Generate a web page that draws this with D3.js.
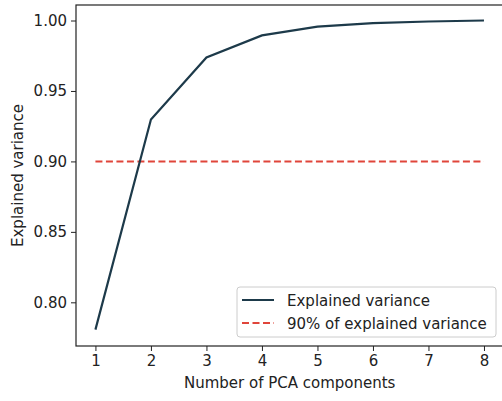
<!DOCTYPE html>
<html><head><meta charset="utf-8">
<script src="https://cdn.jsdelivr.net/npm/d3@7"></script>
<style>body{margin:0;background:#fff}svg{display:block}text{font-family:"DejaVu Sans",sans-serif;fill:#222}</style>
</head><body><svg id="c" width="502" height="401"></svg>
<script>
const components = [1,2,3,4,5,6,7,8];
const explained = [0.7806,0.9298,0.9738,0.9894,0.9957,0.9981,0.9993,1.0];
const threshold = 0.90;
const xTicks = [1,2,3,4,5,6,7,8];
const yTicks = [0.80,0.85,0.90,0.95,1.00];

const svg = d3.select("#c");
const L=76, T=5, R=503.4, B=346;
const x = d3.scaleLinear().domain([0.65,8.35]).range([L,R]);
const y = d3.scaleLinear().domain([0.769,1.011]).range([B,T]);
const fs = 15;

const gx = svg.append("g").attr("transform",`translate(0,${B})`)
  .call(d3.axisBottom(x).tickValues(xTicks).tickFormat(d3.format("d")).tickSize(5).tickPadding(4));
const gy = svg.append("g").attr("transform",`translate(${L},0)`)
  .call(d3.axisLeft(y).tickValues(yTicks).tickFormat(d3.format(".2f")).tickSize(5).tickPadding(4));
[gx,gy].forEach(g=>{g.select(".domain").remove();g.selectAll("text").attr("font-size",fs).attr("font-family","DejaVu Sans").attr("fill","#222");g.selectAll("line").attr("stroke","#222").attr("stroke-width",1);});

svg.append("rect").attr("x",L).attr("y",T).attr("width",R-L).attr("height",B-T)
  .attr("fill","none").attr("stroke","#222").attr("stroke-width",1.2);

svg.append("line").attr("x1",x(1)).attr("x2",x(8)).attr("y1",y(threshold)).attr("y2",y(threshold))
  .attr("stroke","#e0453a").attr("stroke-width",2).attr("stroke-dasharray","7,3.5");

svg.append("path").datum(components.map((c,i)=>[c,explained[i]]))
  .attr("d",d3.line().x(d=>x(d[0])).y(d=>y(d[1])))
  .attr("fill","none").attr("stroke","#1d3a4a").attr("stroke-width",2.2);

svg.append("text").attr("x",(L+R)/2).attr("y",388).attr("text-anchor","middle").attr("font-size",fs).text("Number of PCA components");
svg.append("text").attr("transform",`translate(23,${(T+B)/2}) rotate(-90)`).attr("text-anchor","middle").attr("font-size",fs).text("Explained variance");

const lg = svg.append("g");
lg.append("rect").attr("x",237).attr("y",287).attr("width",259).attr("height",50).attr("rx",3)
  .attr("fill","#fff").attr("stroke","#ccc").attr("stroke-width",1);
const items=[{label:"Explained variance",color:"#1d3a4a",dash:null},{label:"90% of explained variance",color:"#e0453a",dash:"7,3.5"}];
items.forEach((it,i)=>{
  const yy=300+i*23;
  lg.append("line").attr("x1",242).attr("x2",274).attr("y1",yy).attr("y2",yy).attr("stroke",it.color).attr("stroke-width",2).attr("stroke-dasharray",it.dash);
  lg.append("text").attr("x",287).attr("y",yy+5.5).attr("font-size",fs).text(it.label);
});
</script></body></html>
